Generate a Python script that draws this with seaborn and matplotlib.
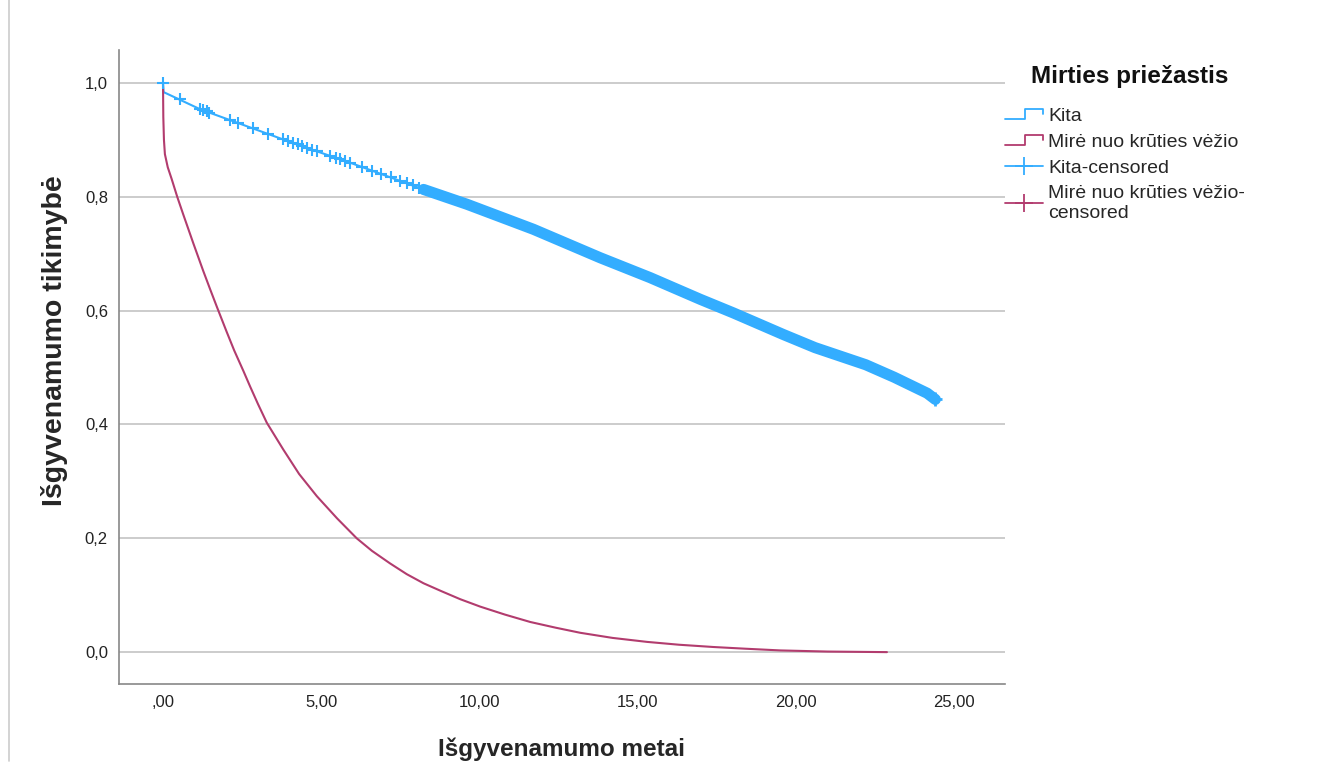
import numpy as np
import pandas as pd
import matplotlib
matplotlib.use("Agg")
import matplotlib.pyplot as plt
from matplotlib.lines import Line2D
from matplotlib.legend_handler import HandlerBase
import seaborn as sns

# ---- data ----
kita_t = [0.0, 0.02, 1.17, 2.75, 4.33, 5.91, 7.49, 8.23, 9.6, 11.7, 13.81, 15.39,
          16.97, 18.02, 19.6, 20.6, 22.2, 23.1, 24.14, 24.4]
kita_s = [1.0, 0.984, 0.954, 0.922, 0.890, 0.860, 0.828, 0.813, 0.787, 0.743, 0.693,
          0.658, 0.620, 0.596, 0.558, 0.535, 0.505, 0.483, 0.455, 0.444]

vezys_t = [0.0, 0.01, 0.03, 0.06, 0.15, 0.27, 0.45, 0.64, 0.96, 1.27, 1.5, 1.70, 2.01,
           2.25, 2.54, 2.75, 3.0, 3.28, 3.80, 4.3, 4.86, 5.5, 6.12, 6.6, 7.17, 7.7,
           8.23, 8.8, 9.39, 10.02, 10.8, 11.6, 12.4, 13.18, 14.2, 15.29, 16.3, 17.39,
           18.4, 19.5, 21.0, 22.87]
vezys_s = [1.0, 0.94, 0.90, 0.875, 0.852, 0.832, 0.80, 0.769, 0.718, 0.670, 0.636, 0.607,
           0.563, 0.530, 0.494, 0.467, 0.436, 0.403, 0.356, 0.313, 0.274, 0.235, 0.200,
           0.178, 0.156, 0.137, 0.121, 0.107, 0.093, 0.080, 0.066, 0.053, 0.043, 0.034,
           0.025, 0.018, 0.013, 0.009, 0.006, 0.003, 0.001, 0.0]

# sparse censored observations of "Kita"
kita_cens_t = [0.0, 0.53, 1.17, 1.26, 1.38, 1.45, 2.12, 2.37, 2.84, 3.32, 3.80, 3.95,
               4.10, 4.25, 4.40, 4.55, 4.70, 4.86, 5.28, 5.45, 5.60, 5.75, 5.91, 6.3,
               6.6, 6.9, 7.2, 7.5, 7.7, 7.9, 8.1]
kita_cens_s = [1.0, 0.972, 0.954, 0.952, 0.950, 0.948, 0.935, 0.930, 0.921, 0.911, 0.901,
               0.898, 0.895, 0.892, 0.889, 0.886, 0.883, 0.880, 0.872, 0.869, 0.866,
               0.863, 0.860, 0.852, 0.846, 0.840, 0.834, 0.828, 0.824, 0.820, 0.815]
dense_cens_start = 8.2  # from here on censor marks form a continuous band

groups = ["Kita", "Mirė nuo krūties vėžio"]
legend_title = "Mirties priežastis"
x_ticks = [0, 5, 10, 15, 20, 25]
x_ticklabels = [",00", "5,00", "10,00", "15,00", "20,00", "25,00"]
y_ticks = [0.0, 0.2, 0.4, 0.6, 0.8, 1.0]
y_ticklabels = ["0,0", "0,2", "0,4", "0,6", "0,8", "1,0"]

BLUE = "#33adff"
RED = "#b23c6e"

sns.set_style("white")
plt.rcParams["font.family"] = ["Liberation Sans", "DejaVu Sans"]

df = pd.DataFrame({
    "t": kita_t + vezys_t,
    "s": kita_s + vezys_s,
    "g": [groups[0]] * len(kita_t) + [groups[1]] * len(vezys_t),
})
cens = pd.DataFrame({"t": kita_cens_t, "s": kita_cens_s})
band = pd.DataFrame({"t": kita_t, "s": kita_s})
band = band[band["t"] >= dense_cens_start]

W, H = 1326, 769
fig = plt.figure(figsize=(W / 100, H / 100), dpi=100)
ax = fig.add_axes([119 / W, 1 - 684 / H, (1005 - 119) / W, (684 - 50) / H])

sns.lineplot(data=df, x="t", y="s", hue="g", palette=[BLUE, RED], estimator=None,
             sort=False, linewidth=1.5, ax=ax, legend=False)
sns.lineplot(data=band, x="t", y="s", color=BLUE, estimator=None, sort=False,
             linewidth=8, ax=ax, legend=False)
sns.scatterplot(data=cens, x="t", y="s", marker="+", color=BLUE, s=80, linewidth=1.5,
                ax=ax, legend=False, zorder=3)
ax.plot([band["t"].iloc[-1]], [band["s"].iloc[-1]], marker="+", color=BLUE, ms=10, mew=2)

ax.set_xlim(-1.39, 26.6)
ax.set_ylim(-0.056, 1.058)
ax.set_xticks(x_ticks)
ax.set_xticklabels(x_ticklabels)
ax.set_yticks(y_ticks)
ax.set_yticklabels(y_ticklabels)
ax.tick_params(axis="both", length=0, labelsize=12, colors="#222222")
ax.tick_params(axis="y", pad=8)
ax.tick_params(axis="x", pad=8)
ax.yaxis.grid(True, color="#cccccc", linewidth=1.4)
ax.set_axisbelow(True)
for side in ["top", "right"]:
    ax.spines[side].set_visible(False)
for side in ["left", "bottom"]:
    ax.spines[side].set_color("#888888")
    ax.spines[side].set_linewidth(1.2)

ax.set_xlabel("Išgyvenamumo metai", fontsize=17.5, fontweight="bold", labelpad=20)
ax.set_ylabel("Išgyvenamumo tikimybė", fontsize=20.5, fontweight="bold")
ax.yaxis.set_label_coords((68 - 119) / 886, (684 - 341) / 634)


class StepHandler(HandlerBase):
    def create_artists(self, legend, orig_handle, xdescent, ydescent, width, height,
                       fontsize, trans):
        x0, x1 = -xdescent, -xdescent + width
        xm = x0 + 0.53 * width
        ylo, yhi = -ydescent + 0.1 * height, -ydescent + 0.85 * height
        ymid = -ydescent + 0.45 * height
        ln = Line2D([x0, xm, xm, x1, x1], [ylo, ylo, yhi, yhi, ymid],
                    color=orig_handle.get_color(), linewidth=1.3, transform=trans)
        return [ln]


h_kita = Line2D([], [], color=BLUE)
h_vez = Line2D([], [], color=RED)
h_kc = Line2D([], [], color=BLUE, marker="+", markersize=13, linewidth=1.3, mew=1.3)
h_vc = Line2D([], [], color=RED, marker="+", markersize=13, linewidth=1.3, mew=1.3)
leg = fig.legend([h_kita, h_vez, h_kc, h_vc],
                 [groups[0], groups[1], groups[0] + "-censored",
                  groups[1] + "-\ncensored"],
                 handler_map={h_kita: StepHandler(), h_vez: StepHandler()},
                 loc="upper left", bbox_to_anchor=(1005 / W, 1 - 107 / H),
                 frameon=False, fontsize=14, handlelength=1.95, handletextpad=0.28,
                 labelspacing=0.43, borderaxespad=0, borderpad=0)
for txt in leg.get_texts():
    txt.set_linespacing(1.2)
fig.text(1031 / W, 1 - 76 / H, legend_title, fontsize=17.5, fontweight="bold",
         ha="left", va="center", color="#111111")

# thin screenshot border line at far left
fig.add_artist(Line2D([8.5 / W, 8.5 / W], [0.01, 1.0], transform=fig.transFigure,
                      color="#cccccc", linewidth=1.2))

fig.savefig("out.png", dpi=100)
